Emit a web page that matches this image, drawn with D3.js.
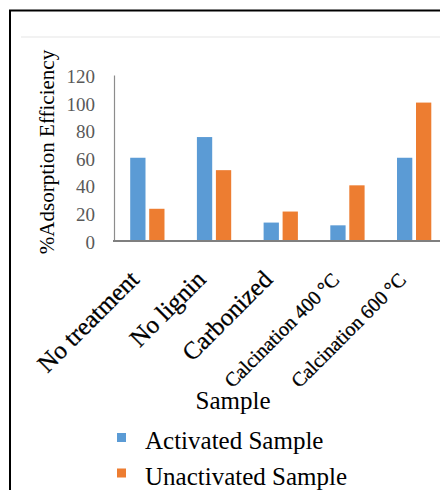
<!DOCTYPE html>
<html>
<head>
<meta charset="utf-8">
<script src="https://cdn.jsdelivr.net/npm/d3@7"></script>
<style>
  body { margin: 0; background: #fff; }
  svg { display: block; }
</style>
</head>
<body>
<div id="chart"></div>
<script>
const categories = ["No treatment", "No lignin", "Carbonized", "Calcination 400\u2009°C", "Calcination 600\u2009°C"];
const seriesNames = ["Activated Sample", "Unactivated Sample"];
const activated = [60, 75, 13, 11, 60];
const unactivated = [23, 51, 21, 40, 100];
const yTicks = [0, 20, 40, 60, 80, 100, 120];

const colors = ["#5b9bd5", "#ed7d31"];
const serif = "'Liberation Serif', 'Times New Roman', serif";

const width = 440, height = 490;

const svg = d3.select("#chart")
    .append("svg")
    .attr("width", width)
    .attr("height", height);

// outer frame (runs off the right and bottom edges)
svg.append("rect")
    .attr("x", 10)
    .attr("y", 10.5)
    .attr("width", 460)
    .attr("height", 500)
    .attr("fill", "none")
    .attr("stroke", "#000")
    .attr("stroke-width", 2);

// faint chart-area edge
svg.append("line")
    .attr("x1", 21).attr("x2", 440)
    .attr("y1", 37).attr("y2", 37)
    .attr("stroke", "#eeeeee")
    .attr("stroke-width", 1.5);

const x = d3.scaleBand()
    .domain(categories)
    .range([114, 447.5])
    .paddingInner(0.486)
    .paddingOuter(0.243);

const xSub = d3.scaleBand()
    .domain(seriesNames)
    .range([0, x.bandwidth()])
    .paddingInner(0.195);

const y = d3.scaleLinear()
    .domain([0, 120])
    .range([240.5, 75]);

const rows = categories.map((c, i) => ({
    cat: c,
    values: [
        { name: seriesNames[0], value: activated[i] },
        { name: seriesNames[1], value: unactivated[i] }
    ]
}));

const colorScale = d3.scaleOrdinal().domain(seriesNames).range(colors);

// bars
const groups = svg.append("g")
    .selectAll("g")
    .data(rows)
    .join("g")
    .attr("transform", d => `translate(${x(d.cat)},0)`);

groups.selectAll("rect")
    .data(d => d.values)
    .join("rect")
    .attr("x", d => xSub(d.name))
    .attr("y", d => y(d.value))
    .attr("width", xSub.bandwidth())
    .attr("height", d => y(0) - y(d.value))
    .attr("fill", d => colorScale(d.name));

// y axis
const yAxis = svg.append("g")
    .attr("transform", "translate(114,0)")
    .call(d3.axisLeft(y).tickValues(yTicks).tickSize(0).tickPadding(19));
yAxis.select(".domain")
    .attr("stroke", "#8c8c8c")
    .attr("stroke-width", 1.2);
yAxis.selectAll("text")
    .attr("font-family", serif)
    .attr("font-size", "19px")
    .attr("fill", "#595959")
    .attr("dy", "0.4em");

// x axis
const xAxis = svg.append("g")
    .attr("transform", "translate(0,241)")
    .call(d3.axisBottom(x).tickSize(0).tickFormat(""));
xAxis.select(".domain")
    .attr("d", "M113,0H440")
    .attr("stroke", "#7f7f7f")
    .attr("stroke-width", 2);

// rotated category labels
svg.append("g")
    .selectAll("text")
    .data(categories)
    .join("text")
    .attr("transform", d => `translate(${x(d) + x.bandwidth() / 2 - 7},281) rotate(-45)`)
    .attr("text-anchor", "end")
    .attr("font-family", serif)
    .attr("font-size", d => d.startsWith("Calcination") ? "20px" : "25px")
    .attr("fill", "#000")
    .attr("stroke", "#000")
    .attr("stroke-width", 0.3)
    .text(d => d);

// y title
svg.append("text")
    .attr("transform", "translate(54,152) rotate(-90)")
    .attr("text-anchor", "middle")
    .attr("font-family", serif)
    .attr("font-size", "21px")
    .attr("fill", "#000")
    .text("%Adsorption Efficiency");

// x title
svg.append("text")
    .attr("x", 233)
    .attr("y", 409)
    .attr("text-anchor", "middle")
    .attr("font-family", serif)
    .attr("font-size", "25px")
    .attr("fill", "#000")
    .text("Sample");

// legend
const legend = svg.append("g")
    .selectAll("g")
    .data(seriesNames)
    .join("g")
    .attr("transform", (d, i) => `translate(117,${433 + i * 35.5})`);

legend.append("rect")
    .attr("width", 9)
    .attr("height", 9)
    .attr("fill", d => colorScale(d));

legend.append("text")
    .attr("x", 28)
    .attr("y", 16)
    .attr("font-family", serif)
    .attr("font-size", "25px")
    .attr("fill", "#000")
    .text(d => d);
</script>
</body>
</html>
